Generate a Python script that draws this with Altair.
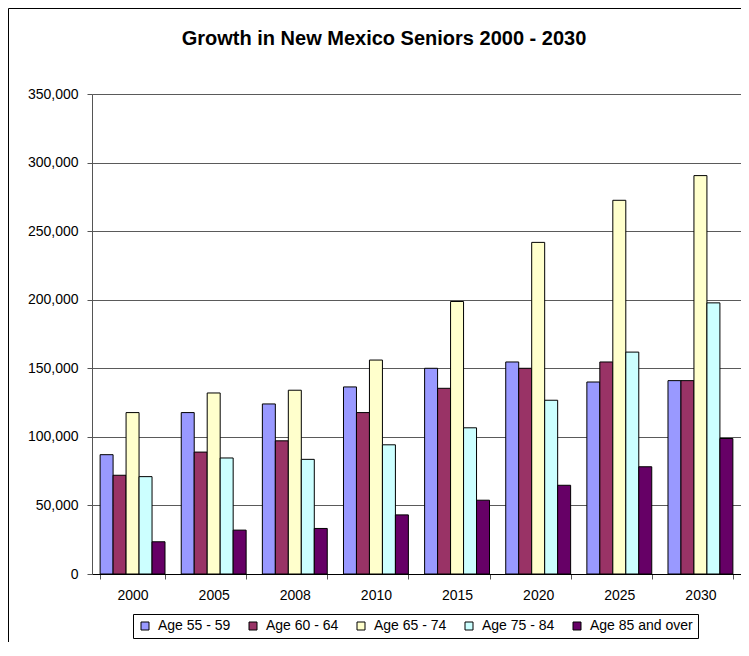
import altair as alt
import pandas as pd

years = ["2000", "2005", "2008", "2010", "2015", "2020", "2025", "2030"]
series = ["Age 55 - 59", "Age 60 - 64", "Age 65 - 74", "Age 75 - 84", "Age 85 and over"]
age_55_59 = [87000, 117700, 124000, 136400, 150000, 154600, 140000, 141000]
age_60_64 = [72000, 88900, 97100, 117700, 135400, 150000, 154600, 141000]
age_65_74 = [117700, 132000, 134000, 156000, 198700, 241800, 272500, 290500]
age_75_84 = [71000, 84600, 83600, 94200, 106600, 126700, 161800, 197700]
age_85_up = [23500, 32000, 33200, 43100, 53800, 64700, 78200, 98800]
colors = ["#9999FF", "#993366", "#FFFFCC", "#CCFFFF", "#660066"]
y_ticks = [0, 50000, 100000, 150000, 200000, 250000, 300000, 350000]
title_text = "Growth in New Mexico Seniors 2000 - 2030"

rows = []
for s, vals in zip(series, [age_55_59, age_60_64, age_65_74, age_75_84, age_85_up]):
    for yr, v in zip(years, vals):
        rows.append({"Year": yr, "Group": s, "Population": v})
df = pd.DataFrame(rows)

W, H = 649, 480
FONT = "Liberation Sans"

bars = alt.Chart(df).mark_bar(stroke="black", strokeWidth=1).encode(
    x=alt.X("Year:N", sort=years, title=None,
            scale=alt.Scale(paddingInner=0.2, paddingOuter=0.1),
            axis=alt.Axis(labelAngle=0, domainColor="black", tickColor="#555",
                          tickSize=5, labelPadding=9, labelFontSize=14,
                          labelColor="black", labelFont=FONT, grid=False,
                          tickBand="extent")),
    xOffset=alt.XOffset("Group:N", sort=series, scale=alt.Scale(paddingInner=0, paddingOuter=0)),
    y=alt.Y("Population:Q", title=None,
            scale=alt.Scale(domain=[0, 350000], nice=False),
            axis=alt.Axis(values=y_ticks, format=",.0f", domainColor="#555",
                          tickColor="#555", tickSize=5, labelPadding=9,
                          labelFontSize=14, labelColor="black", labelFont=FONT,
                          gridColor="#5a5a5a", gridOpacity=1, gridWidth=1)),
    color=alt.Color("Group:N", sort=series,
                    scale=alt.Scale(domain=series, range=colors),
                    legend=alt.Legend(title=None, orient="none", direction="horizontal",
                                      legendX=41, legendY=520, symbolType="square",
                                      symbolSize=64, symbolStrokeColor="black",
                                      symbolStrokeWidth=1, symbolOpacity=1,
                                      labelFontSize=14, labelFont=FONT,
                                      labelColor="black", columnPadding=15,
                                      symbolOffset=0, labelOffset=6,
                                      strokeColor="black", padding=5,
                                      fillColor="white")),
)

frame = pd.DataFrame({"label": [title_text]})

left_edge = alt.Chart(frame).mark_rule(color="black", strokeWidth=1).encode(
    x=alt.value(-83.5), y=alt.value(-85.5), y2=alt.value(H + 300),
)
top_edge = alt.Chart(frame).mark_rule(color="black", strokeWidth=1).encode(
    x=alt.value(-83.5), x2=alt.value(W + 300), y=alt.value(-85.5),
)

title = alt.Chart(frame).mark_text(
    font=FONT, fontSize=20, fontWeight="bold", color="black",
    align="center", baseline="alphabetic"
).encode(
    text="label:N",
    x=alt.value(292), y=alt.value(-49),
)

chart = alt.layer(left_edge, top_edge, bars, title).properties(
    width=W, height=H,
    autosize=alt.AutoSizeParams(type="none"),
    padding={"left": 84, "top": 86, "right": 0, "bottom": 68},
).configure_view(stroke=None).configure(background="white")

chart.save("out.html", embed_options={"renderer": "svg", "actions": False})
